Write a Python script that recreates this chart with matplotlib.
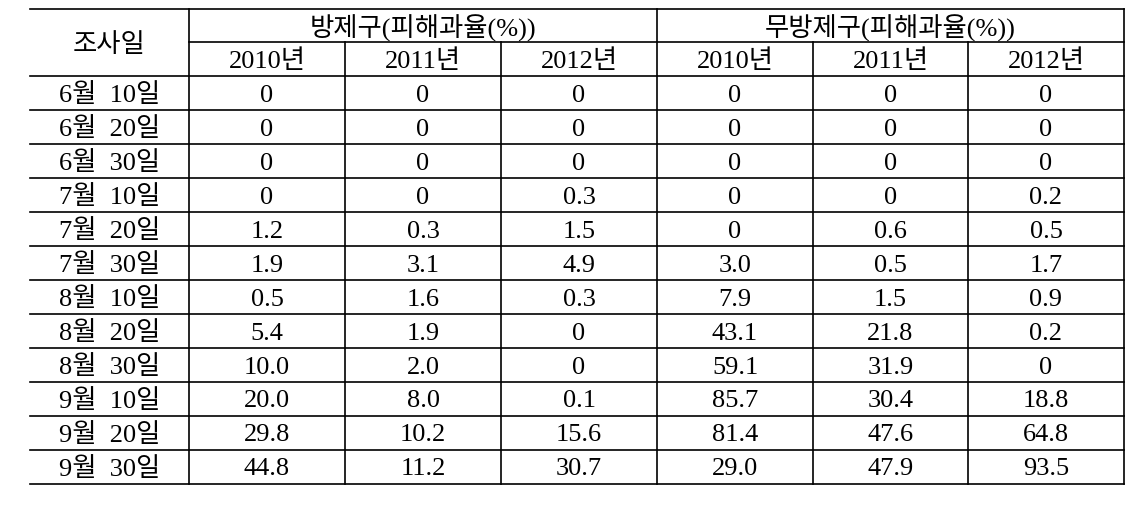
import matplotlib
matplotlib.use("Agg")
import matplotlib.pyplot as plt

dates = ["6월  10일", "6월  20일", "6월  30일", "7월  10일", "7월  20일", "7월  30일",
         "8월  10일", "8월  20일", "8월  30일", "9월  10일", "9월  20일", "9월  30일"]
groups = ["방제구(피해과율(%))", "무방제구(피해과율(%))"]
years = ["2010년", "2011년", "2012년"]
first_header = "조사일"

treated_2010 = [0, 0, 0, 0, 1.2, 1.9, 0.5, 5.4, 10.0, 20.0, 29.8, 44.8]
treated_2011 = [0, 0, 0, 0, 0.3, 3.1, 1.6, 1.9, 2.0, 8.0, 10.2, 11.2]
treated_2012 = [0, 0, 0, 0.3, 1.5, 4.9, 0.3, 0, 0, 0.1, 15.6, 30.7]
untreated_2010 = [0, 0, 0, 0, 0, 3.0, 7.9, 43.1, 59.1, 85.7, 81.4, 29.0]
untreated_2011 = [0, 0, 0, 0, 0.6, 0.5, 1.5, 21.8, 31.9, 30.4, 47.6, 47.9]
untreated_2012 = [0, 0, 0, 0.2, 0.5, 1.7, 0.9, 0.2, 0, 18.8, 64.8, 93.5]

columns = [treated_2010, treated_2011, treated_2012,
           untreated_2010, untreated_2011, untreated_2012]

def fmt(v):
    return "0" if v == 0 else f"{v:.1f}"

W, H = 1144, 506
fig = plt.figure(figsize=(W / 100, H / 100), dpi=100)
ax = fig.add_axes([0, 0, 1, 1])
ax.set_xlim(0, W)
ax.set_ylim(H, 0)
ax.axis("off")

FONT = ["Liberation Serif", "Noto Sans CJK KR", "DejaVu Sans"]
FS = 19
lw = 1.2

x_edges = [30, 189, 345, 501, 657, 813, 968, 1124]
y_top, y_mid, y_head = 10, 43, 77
row_h = 34
n = len(dates)
y_rows = [y_head + i * row_h for i in range(n + 1)]
y_bot = y_rows[-1]

# horizontal lines
ax.plot([x_edges[0], x_edges[-1]], [y_top, y_top], color="black", lw=lw)
ax.plot([x_edges[1], x_edges[-1]], [y_mid, y_mid], color="black", lw=lw)
for y in y_rows:
    ax.plot([x_edges[0], x_edges[-1]], [y, y], color="black", lw=lw)

# vertical lines
for i, x in enumerate(x_edges[1:], start=1):
    if i in (1, 4, 7):
        ax.plot([x, x], [y_top, y_bot], color="black", lw=lw)
    else:
        ax.plot([x, x], [y_mid, y_bot], color="black", lw=lw)

def put(x, y, s, dy=1.5):
    ax.text(x, y + dy, s, ha="center", va="center", fontsize=FS, family=FONT,
            color="black", fontweight="light")

put((x_edges[0] + x_edges[1]) / 2, (y_top + y_head) / 2, first_header)
put((x_edges[1] + x_edges[4]) / 2, (y_top + y_mid) / 2, groups[0])
put((x_edges[4] + x_edges[7]) / 2, (y_top + y_mid) / 2, groups[1])
for j in range(6):
    put((x_edges[j + 1] + x_edges[j + 2]) / 2, (y_mid + y_head) / 2, years[j % 3])

for i, d in enumerate(dates):
    yc = (y_rows[i] + y_rows[i + 1]) / 2
    put((x_edges[0] + x_edges[1]) / 2, yc, d)
    for j, col in enumerate(columns):
        put((x_edges[j + 1] + x_edges[j + 2]) / 2, yc, fmt(col[i]))

fig.savefig("out.png", dpi=100)
